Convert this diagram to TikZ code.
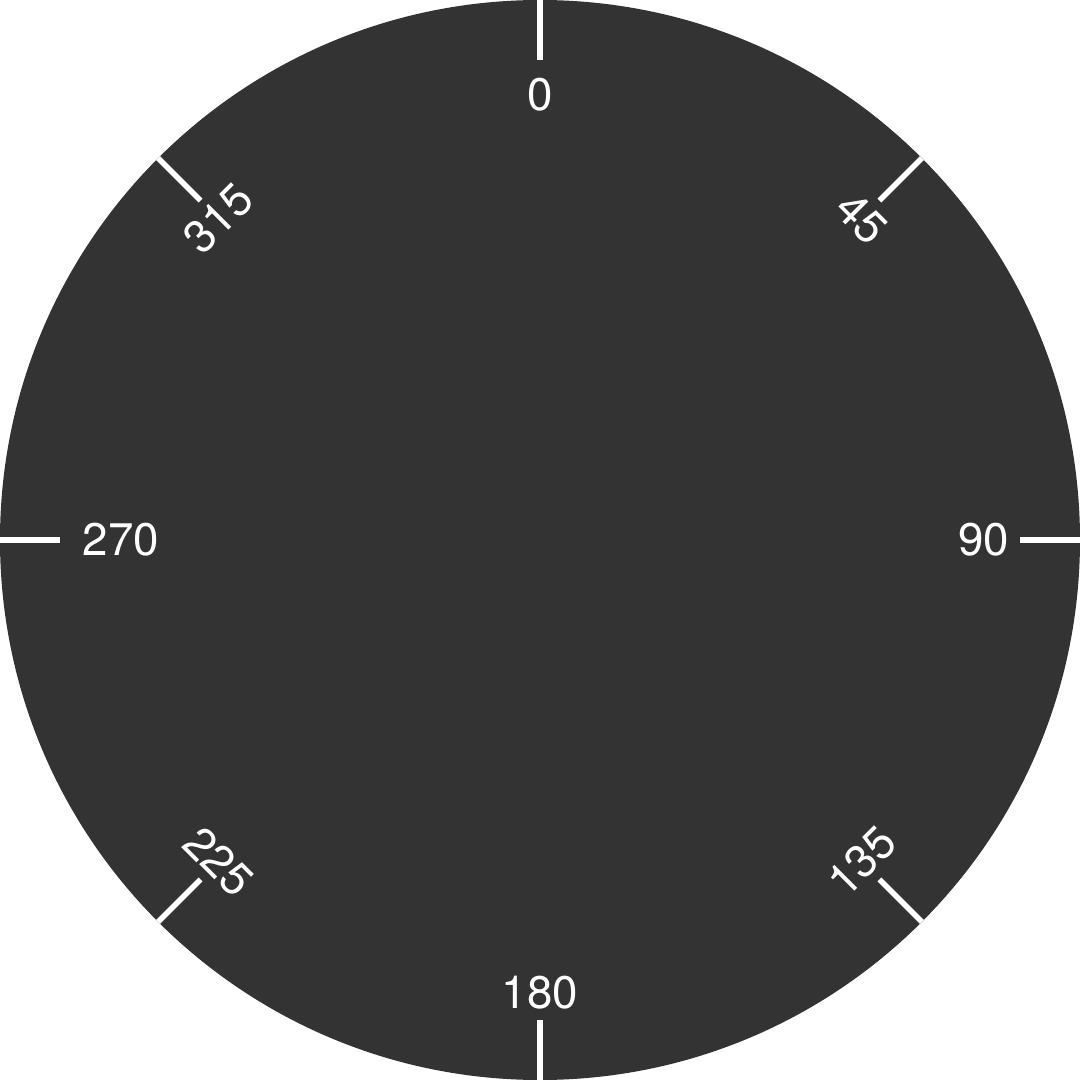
\documentclass[tikz,border=0pt]{standalone}
\usepackage{fontspec}
\setmainfont{TeX Gyre Heros}
\definecolor{dialbg}{HTML}{333333}
\tikzset{dialtick/.style={draw=white,line width=1.55pt},
  diallbl/.style={text=white,inner sep=0pt,font=\fontsize{13}{15}\selectfont}}
\begin{document}
\begin{tikzpicture}
  \def\myrout{5.4}\def\myrin{4.8}\def\myrlbl{4.63}\def\myrdiag{4.55}
  \fill[white] (-\myrout,-\myrout) rectangle (\myrout,\myrout);
  \useasboundingbox (-\myrout,-\myrout) rectangle (\myrout,\myrout);
  \fill[dialbg] (0,0) circle (\myrout);
  \begin{scope}
    \clip (0,0) circle (\myrout);
    \foreach \ang in {0,45,...,315}
      \draw[dialtick] (90-\ang:\myrout)--(90-\ang:\myrin);
  \end{scope}
  % cardinal labels
  \node[diallbl,anchor=north] (lblzero) at (90:\myrlbl) {0};
  \node[diallbl,anchor=east] (lblninety) at (0:4.7) {90};
  \node[diallbl,anchor=south] (lbloneeighty) at (-90:4.7) {180};
  \node[diallbl,anchor=west] (lbltwoseventy) at (180:4.58) {270};
  % diagonal labels
  \node[diallbl,rotate=-45] (lblfortyfive) at (45:\myrdiag) {45};
  \node[diallbl,rotate=45] (lbloneththirtyfive) at (-45:\myrdiag) {135};
  \node[diallbl,rotate=-45] (lbltwotwentyfive) at (-135:\myrdiag) {225};
  \node[diallbl,rotate=45] (lblthreefifteen) at (135:\myrdiag) {315};
\end{tikzpicture}
\end{document}
